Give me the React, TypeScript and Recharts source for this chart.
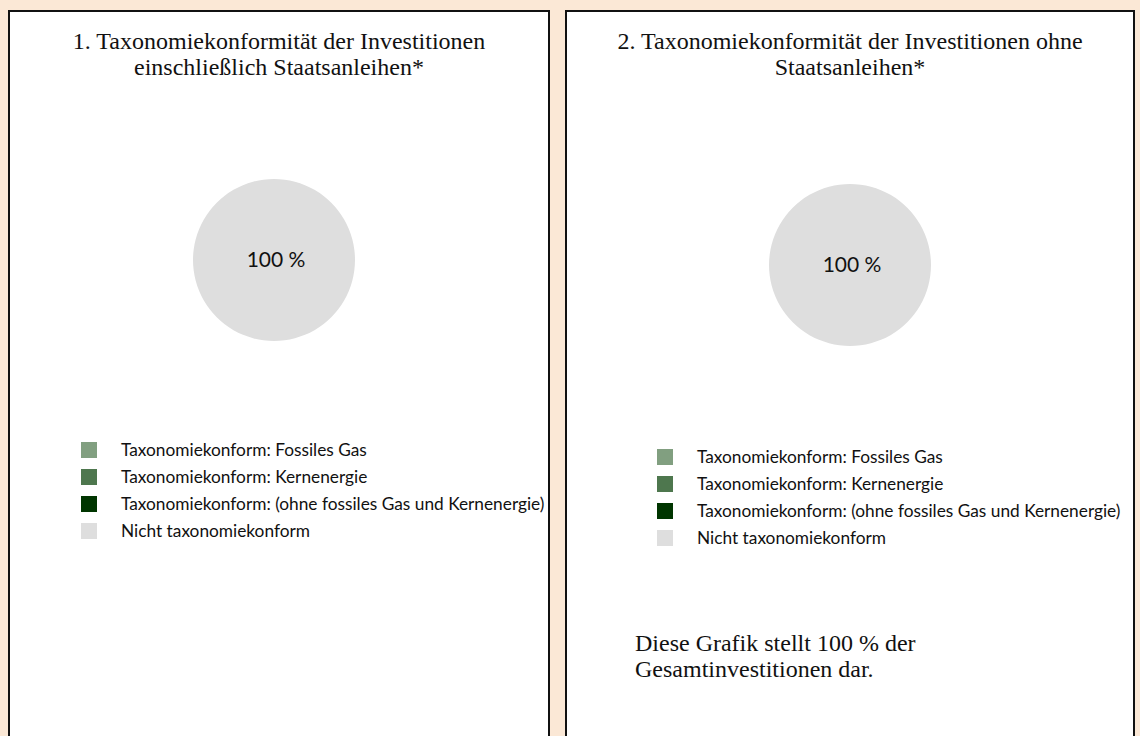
import { Cell, Legend, Pie, PieChart } from 'recharts';

// Kategorien und Werte (in %)
const CATEGORIES = [
  'Taxonomiekonform: Fossiles Gas',
  'Taxonomiekonform: Kernenergie',
  'Taxonomiekonform: (ohne fossiles Gas und Kernenergie)',
  'Nicht taxonomiekonform',
];
const VALUES_WITH_BONDS = [0, 0, 0, 100];
const VALUES_WITHOUT_BONDS = [0, 0, 0, 100];
const COLORS = ['#819f80', '#4e774e', '#003500', '#dedede'];

const TITLE_1 = ['1. Taxonomiekonformität der Investitionen', 'einschließlich Staatsanleihen*'];
const TITLE_2 = ['2. Taxonomiekonformität der Investitionen ohne', 'Staatsanleihen*'];
const FOOTNOTE = ['Diese Grafik stellt 100 % der', 'Gesamtinvestitionen dar.'];

const SERIF = "'Times New Roman', 'Liberation Serif', serif";
const SANS = "Lato, 'Open Sans', sans-serif";

interface PanelProps {
  left: number;
  width: number;
  title: string[];
  values: number[];
  cx: number;
  cy: number;
  legendLeft: number;
  legendTop: number;
  footnote?: string[];
}

function LegendList() {
  return (
    <div style={{ fontFamily: SANS, fontSize: 17.3, color: '#111' }}>
      {CATEGORIES.map((name, i) => (
        <div key={name} style={{ display: 'flex', alignItems: 'center', height: 27 }}>
          <span style={{ width: 16, height: 16, background: COLORS[i], marginRight: 24, flex: 'none' }} />
          <span style={{ whiteSpace: 'nowrap' }}>{name}</span>
        </div>
      ))}
    </div>
  );
}

// Prozentangabe in der Mitte, nur für Segmente mit Wert
function renderCenterLabel(props: any) {
  if (!props.value) return null;
  return (
    <text
      x={props.cx + 2}
      y={props.cy - 2}
      textAnchor="middle"
      dominantBaseline="central"
      style={{ fontFamily: SANS, fontSize: 21, fill: '#111' }}
    >
      {`${props.value} %`}
    </text>
  );
}

function Panel({ left, width, title, values, cx, cy, legendLeft, legendTop, footnote }: PanelProps) {
  const inner = width - 4;
  const data = CATEGORIES.map((name, i) => ({ name, value: values[i] }));
  const margin = { top: 0, right: 0, bottom: 0, left: 0 };

  return (
    <div
      style={{
        position: 'absolute',
        left,
        top: 10,
        width: inner,
        height: 740,
        border: '2px solid #111',
        background: '#fff',
      }}
    >
      <div
        style={{
          position: 'absolute',
          left: 0,
          top: 16,
          width: inner,
          textAlign: 'center',
          fontFamily: SERIF,
          fontSize: 24,
          lineHeight: '26px',
          color: '#111',
        }}
      >
        {title[0]}
        <br />
        {title[1]}
      </div>

      <div style={{ position: 'absolute', left: 0, top: 0 }}>
        <PieChart width={inner} height={724} margin={margin}>
          <Pie
            data={data}
            dataKey="value"
            nameKey="name"
            cx={cx}
            cy={cy}
            outerRadius={81}
            startAngle={90}
            endAngle={-270}
            stroke="none"
            label={renderCenterLabel}
            labelLine={false}
            isAnimationActive={false}
          >
            {data.map((_d, i) => (
              <Cell key={`cell-${i}`} fill={COLORS[i]} />
            ))}
          </Pie>
          <Legend
            content={() => <LegendList />}
            wrapperStyle={{ left: legendLeft, top: legendTop, width: inner - legendLeft, bottom: 'auto' }}
          />
        </PieChart>
      </div>

      {footnote && (
        <div
          style={{
            position: 'absolute',
            left: 68,
            top: 618,
            fontFamily: SERIF,
            fontSize: 24,
            lineHeight: '26px',
            color: '#111',
          }}
        >
          {footnote[0]}
          <br />
          {footnote[1]}
        </div>
      )}
    </div>
  );
}

export default function App() {
  return (
    <div
      style={{
        position: 'absolute',
        left: 0,
        top: 0,
        width: 1140,
        height: 736,
        overflow: 'hidden',
        background: '#fbe8d6',
      }}
    >
      <Panel
        left={8}
        width={542}
        title={TITLE_1}
        values={VALUES_WITH_BONDS}
        cx={264}
        cy={248}
        legendLeft={71}
        legendTop={424}
      />
      <Panel
        left={565}
        width={570}
        title={TITLE_2}
        values={VALUES_WITHOUT_BONDS}
        cx={283}
        cy={253}
        legendLeft={90}
        legendTop={431}
        footnote={FOOTNOTE}
      />
    </div>
  );
}
